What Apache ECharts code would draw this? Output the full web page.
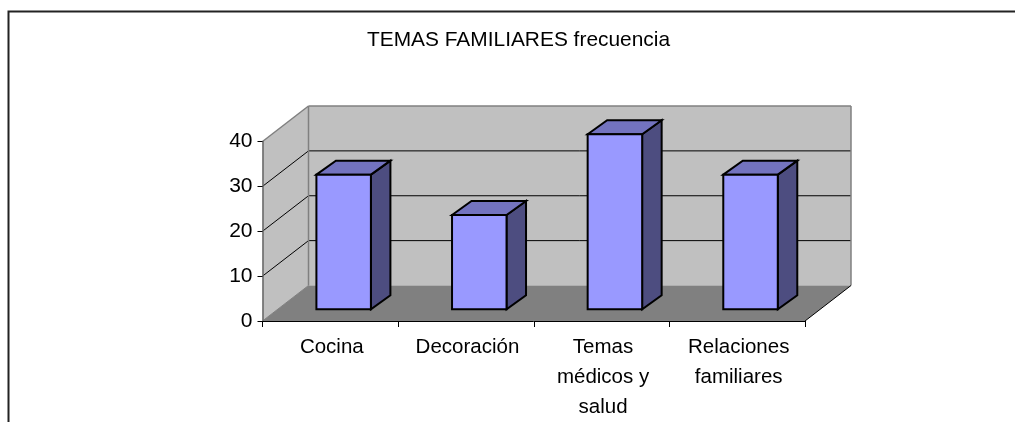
<!DOCTYPE html>
<html><head><meta charset="utf-8">
<style>html,body{margin:0;padding:0;background:#fff}#c{width:1015px;height:422px}</style>
<script src="https://cdn.jsdelivr.net/npm/echarts@6/dist/echarts.min.js"></script>
</head><body><div id="c"></div>
<script>
var titleText = 'TEMAS FAMILIARES frecuencia';
var categories = ['Cocina', 'Decoración', 'Temas\nmédicos y\nsalud', 'Relaciones\nfamiliares'];
var values = [30, 21, 39, 30];
var yTicks = [0, 10, 20, 30, 40];

var chart = echarts.init(document.getElementById('c'), null, {renderer: 'canvas'});
var FONT = '"Liberation Sans", Arial, sans-serif';
var DX = 46, DY = -35.5;            // full floor depth
var BFX = 0.29, BFY = 0.33;         // bar front offset as a fraction of depth
var BDX = 19.5, BDY = -14;          // bar depth
var BW = 54.5;

function poly(pts, fill, stroke, lw) {
  return {type: 'polygon', shape: {points: pts},
    style: {fill: fill, stroke: stroke || null, lineWidth: lw || 0, lineJoin: 'miter'}};
}
function line(a, b, color, lw) {
  return {type: 'line', shape: {x1: a[0], y1: a[1], x2: b[0], y2: b[1]},
    style: {stroke: color, lineWidth: lw}};
}

var option = {
  animation: false,
  backgroundColor: '#fff',
  title: {text: titleText, left: 513.5, top: 25, textAlign: 'center',
    textStyle: {fontFamily: FONT, fontSize: 20.9, fontWeight: 'normal', color: '#000'}},
  grid: {left: 262.5, right: 210, top: 141.5, bottom: 101, containLabel: false},
  xAxis: {type: 'category', data: categories,
    axisLine: {show: true, lineStyle: {color: '#000', width: 1}},
    axisTick: {show: true, alignWithLabel: false, length: 6, lineStyle: {color: '#000'}},
    axisLabel: {fontFamily: FONT, fontSize: 20.5, color: '#000', lineHeight: 30, margin: 11, interval: 0, padding: [0, 0, 0, 3]},
    z: 5},
  yAxis: {type: 'value', min: 0, max: 40, interval: 10,
    axisLine: {show: true, lineStyle: {color: '#666', width: 1.5}},
    axisTick: {show: true, length: 5, lineStyle: {color: '#000'}},
    axisLabel: {fontFamily: FONT, fontSize: 21, color: '#000', margin: 10, lineHeight: 27},
    splitLine: {show: false}, z: 5},
  graphic: [
    {type: 'polyline', shape: {points: [[8.5, 440], [8.5, 11.5], [1030, 11.5]]}, silent: true,
     style: {fill: 'none', stroke: '#222', lineWidth: 2}, z: 0}
  ],
  series: [
    {type: 'custom', name: 'walls', coordinateSystem: 'cartesian2d', z: 2, silent: true,
     data: [0], clip: false,
     renderItem: function (params, api) {
       var r = params.coordSys, x0 = r.x, x1 = r.x + r.width;
       var y0 = api.coord([0, 0])[1], yT = api.coord([0, 40])[1];
       var ch = [];
       ch.push(poly([[x0, y0], [x0 + DX, y0 + DY], [x0 + DX, yT + DY], [x0, yT]], '#c0c0c0'));
       ch.push(poly([[x0 + DX, y0 + DY], [x1 + DX, y0 + DY], [x1 + DX, yT + DY], [x0 + DX, yT + DY]], '#c0c0c0'));
       ch.push(poly([[x0, y0], [x1, y0], [x1 + DX, y0 + DY], [x0 + DX, y0 + DY]], '#808080'));
       yTicks.forEach(function (t) {
         if (t === 0 || t === 40) return;
         var y = api.coord([0, t])[1];
         ch.push(line([x0, y], [x0 + DX, y + DY], '#000', 1));
         ch.push(line([x0 + DX, y + DY], [x1 + DX, y + DY], '#000', 1));
       });
       var g = '#808080';
       ch.push(line([x0, yT], [x0 + DX, yT + DY], g, 1.5));
       ch.push(line([x0 + DX, yT + DY], [x1 + DX, yT + DY], g, 1.5));
       ch.push(line([x1 + DX, yT + DY], [x1 + DX, y0 + DY], g, 1.5));
       ch.push(line([x0 + DX, yT + DY], [x0 + DX, y0 + DY], g, 1.5));
       ch.push(line([x0, y0], [x0 + DX, y0 + DY], g, 1));
       ch.push(line([x1, y0], [x1 + DX, y0 + DY], '#000', 1));
       return {type: 'group', children: ch};
     }},
    {type: 'custom', name: 'frecuencia', coordinateSystem: 'cartesian2d', z: 3, clip: false,
     encode: {x: 0, y: 1},
     data: values.map(function (v, i) { return [i, v]; }),
     renderItem: function (params, api) {
       var top = api.coord([api.value(0), api.value(1)]);
       var base = api.coord([api.value(0), 0]);
       var x = top[0] + DX * BFX - BW / 2;
       var yt = top[1] + DY * BFY, yb = base[1] + DY * BFY;
       var dx = BDX, dy = BDY;
       var s = '#000', lw = 2;
       return {type: 'group', children: [
         poly([[x + BW, yt], [x + BW + dx, yt + dy], [x + BW + dx, yb + dy], [x + BW, yb]], '#4d4d80', s, lw),
         poly([[x, yt], [x + dx, yt + dy], [x + BW + dx, yt + dy], [x + BW, yt]], '#7373bf', s, lw),
         poly([[x, yt], [x + BW, yt], [x + BW, yb], [x, yb]], '#9999ff', s, lw)
       ]};
     }}
  ]
};
chart.setOption(option);
</script></body></html>
